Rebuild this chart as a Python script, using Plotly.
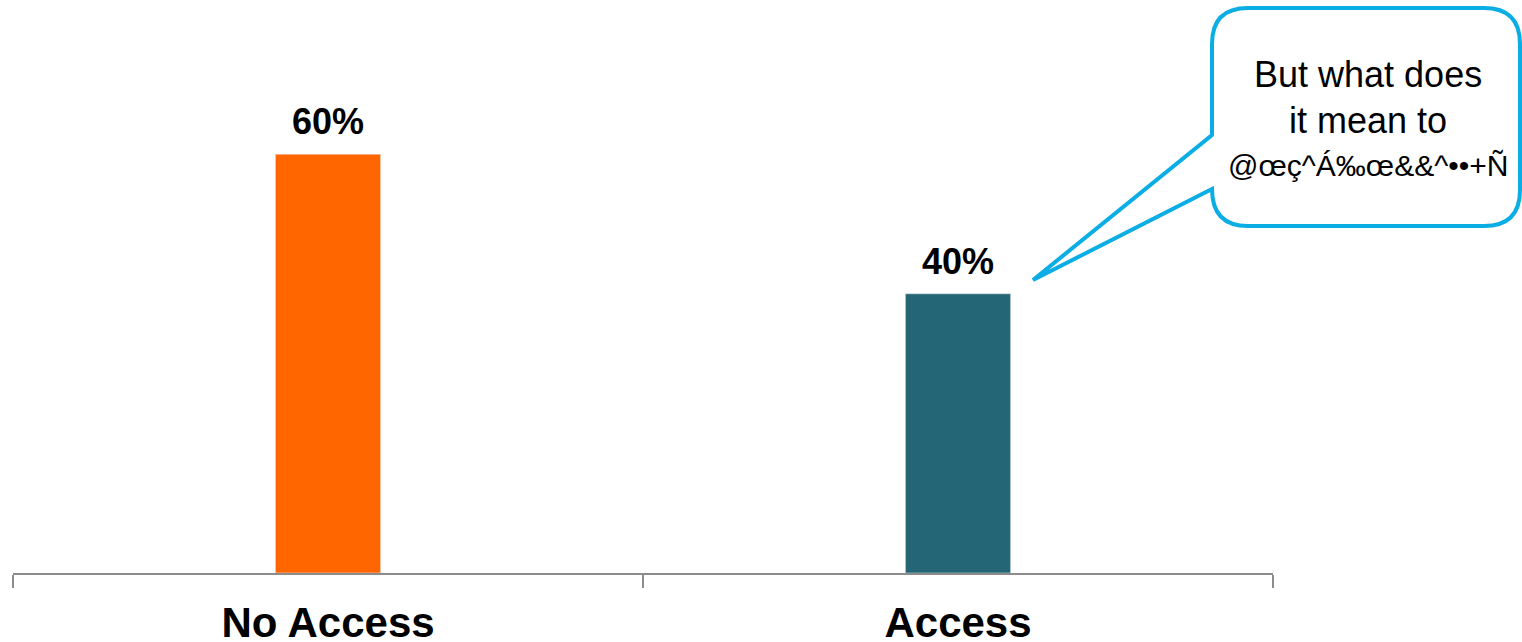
import plotly.graph_objects as go

categories = ["No Access", "Access"]
values = [60, 40]
value_labels = ["60%", "40%"]
bar_colors = ["#FF6600", "#246576"]
callout_lines = ["But what does", "it mean to", "@œç^Á‰œ&&^••+Ñ"]

W, H = 1522, 642
L, R, T, B = 13, 249, 0, 69
PW, PH = W - L - R, H - T - B
px_per_unit = 6.98
ymax = PH / px_per_unit

FONT = "Liberation Sans, Arial, sans-serif"

fig = go.Figure()
fig.add_trace(go.Bar(
    x=categories, y=values, marker_color=bar_colors, width=0.167,
    hoverinfo="skip", showlegend=False,
))

for c, v, t in zip(categories, values, value_labels):
    fig.add_annotation(x=c, y=v, text="<b>%s</b>" % t, showarrow=False,
                       yanchor="bottom", yshift=10,
                       font=dict(family=FONT, size=36, color="black"))

def px(x):
    return (x - L) / PW

def py(y):
    return (H - B - y) / PH

# speech bubble path in pixel coords
x0, x1, y0, y1, r = 1212, 1520, 8, 226, 36
tip = (1033, 280)
att_top, att_bot = 135, 189
pts = []
def M(x, y): pts.append("M %f,%f" % (px(x), py(y)))
def Lt(x, y): pts.append("L %f,%f" % (px(x), py(y)))
def Q(cx, cy, x, y): pts.append("Q %f,%f %f,%f" % (px(cx), py(cy), px(x), py(y)))
M(x0 + r, y0)
Lt(x1 - r, y0)
Q(x1, y0, x1, y0 + r)
Lt(x1, y1 - r)
Q(x1, y1, x1 - r, y1)
Lt(x0 + r, y1)
Q(x0, y1, x0, att_bot)
Lt(tip[0], tip[1])
Lt(x0, att_top)
Lt(x0, y0 + r)
Q(x0, y0, x0 + r, y0)
pts.append("Z")
fig.add_shape(type="path", path=" ".join(pts), xref="paper", yref="paper",
              line=dict(color="#0AADE4", width=4), fillcolor="white", layer="above")

line_y = [75, 120, 165]
line_size = [36, 36, 30]
for txt, yy, sz in zip(callout_lines, line_y, line_size):
    fig.add_annotation(xref="paper", yref="paper", x=px(1368), y=py(yy),
                       text=txt, showarrow=False,
                       xanchor="center", yanchor="middle", align="center",
                       font=dict(family=FONT, size=sz, color="black"))

fig.update_layout(
    width=W, height=H, margin=dict(l=L, r=R, t=T, b=B, autoexpand=False),
    paper_bgcolor="white", plot_bgcolor="white",
    xaxis=dict(showline=True, linecolor="#8C8C8C", linewidth=2,
               ticks="outside", tickson="boundaries", ticklen=13, tickwidth=1.5,
               tickcolor="#8C8C8C", showgrid=False, zeroline=False,
               ticklabelstandoff=12, automargin=False,
               tickfont=dict(family=FONT, size=42, color="black"),
               tickvals=categories, ticktext=["<b>%s</b>" % c for c in categories]),
    yaxis=dict(range=[0, ymax], visible=False, showgrid=False, zeroline=False,
               automargin=False),
)

fig.write_html("out.html")
